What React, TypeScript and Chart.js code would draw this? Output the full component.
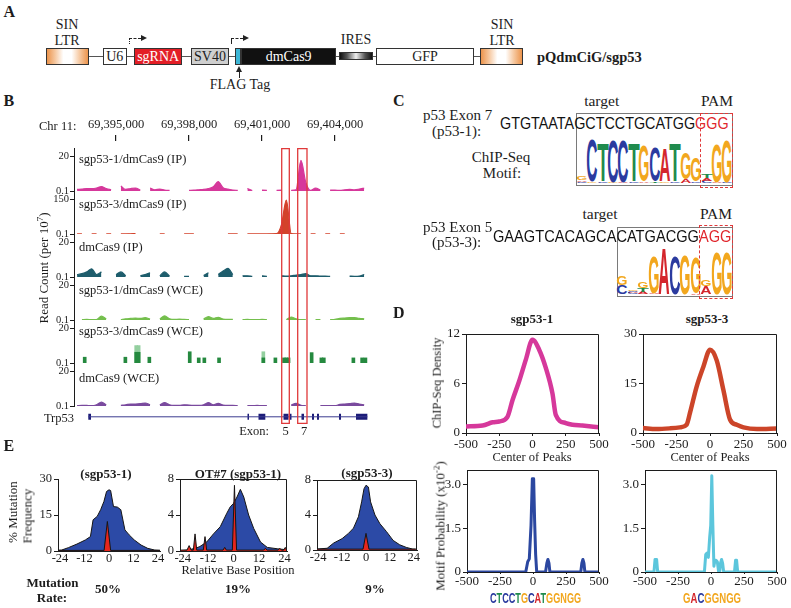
import React, { useEffect, useRef } from "react";
import { Chart, registerables } from "chart.js";

Chart.register(...registerables);

const SERIF = "'Liberation Serif', 'Times New Roman', Times, serif";
const SANS = "'Liberation Sans', Arial, Helvetica, sans-serif";
const INK = "#1c1c1c";
Chart.defaults.font.family = SERIF;
Chart.defaults.color = INK;

// ---------------- Panel B : genome browser data ----------------
const GENOME_MIN = 69393274;
const GENOME_MAX = 69405356;
const GENOME_TICKS = [69395000, 69398000, 69401000, 69404000];
const BIN_START = 69393300;
const BIN_SIZE = 200;

const TRACK_LABELS = [
  "sgp53-1/dmCas9 (IP)",
  "sgp53-3/dmCas9 (IP)",
  "dmCas9 (IP)",
  "sgp53-1/dmCas9 (WCE)",
  "sgp53-3/dmCas9 (WCE)",
  "dmCas9 (WCE)",
];
const TRACK_MAXES = [20, 150, 20, 20, 20, 20];
const TRACK_COLORS = ["#d6389b", "#d3422b", "#1e5d6c", "#74bf4d", "#25893f", "#7a4a9e"];

const T1_SGP531_IP = [
  1.0, 1.2, 1.5, 1.5, 1.8, 2.6, 1.5, 0.8, null, 3.0,
  1.0, 1.5, 1.8, 0.5, null, 1.8, 0.8, 1.2, 0.6, 0.4,
  null, null, null, 0.5, 0.6, 0.8, 1.0, 1.5, 2.5, 5.5,
  2.0, 1.2, 0.6, 0.5, null, 1.5, 0.4, null, 0.6, 0.4,
  null, 0.5, 0.6, null, 0.5, 0.8, 17.5, 5.0, 0.4, 1.8,
  0.5, null, 0.6, 0.6, 0.4, 0.8, 1.0, 0.8, 1.2, 1.8,
];
const T2_SGP533_IP = [
  0.5, 0.5, null, 0.5, 0.5, null, 0.5, 0.5, null, 0.5,
  0.5, 1.2, 2.0, null, null, null, null, 0.5, 0.5, null,
  null, null, 0.5, 0.5, 0.5, null, null, null, null, null,
  null, 0.5, 0.5, 0.5, null, 0.5, 0.5, 0.5, 0.5, 0.5,
  0.8, 1.5, 40, 145, 2.0, 0.5, 0.5, null, 0.5, 0.5,
  null, 0.5, 0.5, null, 0.5, 0.5, null, null, null, null,
];
const T3_DMCAS9_IP = [
  1.5, 2.0, 3.0, 4.8, 1.5, 3.0, null, null, 1.5, 3.0,
  0.8, null, null, 0.8, 1.5, 2.5, null, 0.8, 3.0, 0.5,
  null, null, 0.5, 0.5, null, null, 1.0, 2.5, null, 1.5,
  3.5, 5.0, 1.5, null, 0.8, 0.8, 0.5, null, 0.8, 0.5,
  null, null, 0.8, 0.6, 0.8, 1.2, 1.5, 2.0, 0.8, 0.8,
  0.6, 0.6, 0.5, null, null, null, 0.6, 0.5, 0.6, 1.5,
];
const T4_SGP531_WCE = [
  null, 0.3, 0.5, 0.3, 0.4, 2.3, 0.8, null, null, 0.4,
  0.8, 1.0, 1.2, 1.0, 1.4, 0.6, null, 0.8, 2.4, 0.8,
  0.4, 0.6, 0.4, 0.3, null, null, 0.6, 2.0, 1.0, 1.6,
  0.6, 0.4, 0.4, null, 0.3, 0.4, 0.3, 0.3, 0.4, 0.3,
  null, null, null, 0.3, 1.8, 0.8, 0.3, 0.3, null, 0.3,
  0.3, null, 0.3, 0.5, 1.0, 1.2, 1.4, 1.5, 1.0, 0.8,
];
const T5_WCE_POS = [
  69393714, 69395385, 69395830, 69395930, 69396370, 69398030, 69398400, 69398630, 69399235, 69401055,
  69401550, 69401905, 69402000, 69402090, 69403040, 69403440, 69403540, 69404755, 69405115, 69405250,
];
const T5_WCE_VAL = [3.4, 3.4, 6.2, 6.2, 3.4, 6.5, 3.0, 3.0, 3.0, 3.0, 3.0, 3.0, 3.0, 3.0, 6.0, 3.0, 3.0, 3.0, 3.0, 3.0];
const T5_LIGHT_POS = [69395830, 69395930, 69401055];
const T5_LIGHT_VAL = [10, 10, 6.5];
const T6_DMCAS9_WCE = [
  0.3, 0.5, 0.4, 0.3, 0.8, 2.3, 0.8, null, null, 0.5,
  0.8, 1.2, 1.2, 1.4, 1.8, 0.8, null, 0.8, 2.0, 0.8,
  0.5, 0.5, 0.8, 0.6, 0.5, 0.5, 0.8, 2.0, 0.8, 1.6,
  0.6, 0.4, 0.5, 0.3, null, 0.3, 0.3, 0.4, 0.3, 0.3,
  null, null, null, null, 0.6, 1.6, 0.5, 0.3, null, null,
  0.3, 0.3, 0.3, 0.3, 1.0, 1.2, 1.4, 1.8, 1.2, 0.8,
];

const GENE_START = 69393862;
const GENE_END = 69405330;
const GENE_EXONS = [
  [69393862, 69393973], [69400404, 69400466], [69400856, 69401136], [69401884, 69402089],
  [69402151, 69402212], [69402623, 69402726], [69403055, 69403137], [69403260, 69403342],
  [69404164, 69404247], [69404863, 69405330],
];
const HIGHLIGHTS = [[69401810, 69402122], [69402467, 69402849]];

// ---------------- Panel D data ----------------
const D1_X = [-500, -375, -300, -250, -190, -150, -100, -50, 0, 50, 100, 150, 175, 250, 300, 375, 500];
const D1_Y = [0.8, 0.9, 1.3, 1.4, 1.9, 4.0, 6.3, 8.9, 11.3, 10.1, 7.9, 4.8, 2.2, 1.2, 1.0, 0.9, 0.7];
const D2_X = [-500, -400, -300, -225, -175, -150, -100, -50, 0, 50, 100, 150, 200, 250, 350, 500];
const D2_Y = [1.5, 1.2, 1.4, 1.7, 2.5, 6.0, 14.0, 20.0, 25.2, 22.0, 13.0, 4.0, 2.5, 1.7, 1.2, 1.4];
const M1_X = [-500, -55, -40, -28, -15, -5, 5, 12, 20, 28, 95, 105, 113, 121, 128, 362, 370, 378, 386, 393, 500];
const M1_Y = [0, 0, 0.35, 0.45, 1.6, 3.2, 3.2, 1.8, 0.6, 0, 0, 0.3, 0.43, 0.3, 0, 0, 0.3, 0.43, 0.3, 0, 0];
const M2_X = [-500, -432, -424, -412, -404, -50, -40, -30, -20, -10, -2, 6, 14, 22, 30, 38, 48, 58, 66, 72, 80, 88, 96, 178, 186, 194, 202, 500];
const M2_Y = [0, 0, 0.43, 0.43, 0, 0, 0.6, 0.65, 0.5, 1.2, 1.6, 3.3, 1.6, 0.2, 0.4, 0.4, 0.35, 0, 0, 0.3, 0.43, 0.3, 0, 0, 0.4, 0.4, 0, 0];
const D_SEQ1 = "CTCCTGCATGGNGG";
const D_SEQ2 = "GACGGNGG";

// ---------------- Panel E data ----------------
const E1_BLUE_X = [-25, -23.2, -19.9, -15.7, -11.6, -9.1, -7.8, -5.8, -4.1, -2.5, -1.2, 0, 0.8, 2.2, 4.1, 5.8, 7.8, 9.9, 12.4, 15.7, 19, 22.4, 24.8, 25];
const E1_BLUE_Y = [0.3, 0.4, 1.4, 2.9, 4.6, 6.0, 13.0, 14.4, 17.2, 20.6, 24.8, 25.5, 25.2, 18.5, 18.3, 17.2, 8.8, 6.7, 4.6, 2.5, 1.1, 0.4, 0.3, 0.3];
const E1_RED_X = [-25, -2.4, -0.8, 0.8, 25];
const E1_RED_Y = [0.25, 0.25, 12.3, 0.25, 0.25];
const E2_BLUE_X = [-25, -22, -18, -15.9, -12.7, -9.5, -6.3, -3.2, -1.6, 0, 1.6, 3.2, 4.8, 7.1, 9.5, 12.7, 15.9, 20.6, 24.6, 25];
const E2_BLUE_Y = [0.05, 0.1, 0.3, 0.5, 1.0, 1.9, 2.7, 4.2, 4.9, 5.3, 6.0, 6.85, 6.0, 4.0, 2.5, 1.0, 0.4, 0.25, 0.15, 0.1];
const E2_RED_X = [-25, -22, -21, -20, -19, -18.2, -17.4, -14.3, -13.5, -12.7, -5, -4.2, -3.4, -0.6, 0.4, 1.4, 14.2, 15, 15.8, 21, 21.8, 22.6, 23.6, 24.4, 25];
const E2_RED_Y = [0.1, 0.1, 0.6, 0.1, 0.1, 1.9, 0.1, 0.1, 1.6, 0.1, 0.1, 0.4, 0.1, 0.1, 7.3, 0.1, 0.1, 0.3, 0.1, 0.1, 0.3, 0.1, 0.1, 0.4, 0.1];
const E3_BLUE_X = [-25, -19.5, -16.2, -12, -8.8, -6.3, -3.8, -2.2, -1, 0, 1.2, 2.3, 4.5, 7, 10.3, 13.6, 16.9, 20.2, 23.5, 25];
const E3_BLUE_Y = [0.1, 0.2, 0.8, 1.3, 1.9, 2.5, 3.8, 5.5, 7.0, 7.4, 7.2, 5.5, 4.0, 3.0, 2.1, 1.1, 0.6, 0.3, 0.1, 0.1];
const E3_RED_X = [-25, -1.5, 0, 1.5, 25];
const E3_RED_Y = [0.1, 0.1, 1.9, 0.1, 0.1];
const E_TICKS = [-24, -12, 0, 12, 24];
const MUTATION_RATES = ["50%", "19%", "9%"];

// ---------------- Panel C data ----------------
const SEQ_P53_1 = "GTGTAATAGCTCCTGCATGGGGG";
const SEQ_P53_3 = "GAAGTCACAGCACATGACGGAGG";
const LOGO1 = [
  [["C", 1.5], ["A", 1.5], ["G", 4]],
  [["G", 1.5], ["C", 42]],
  [["C", 1.5], ["T", 39]],
  [["G", 1], ["C", 43]],
  [["A", 1], ["C", 43]],
  [["C", 1.5], ["T", 38]],
  [["A", 1.5], ["G", 36]],
  [["T", 1.5], ["C", 35]],
  [["G", 1.5], ["A", 33]],
  [["C", 1.5], ["T", 38]],
  [["A", 4], ["G", 27]],
  [["C", 1.5], ["G", 24]],
  [["C", 2], ["A", 2.5], ["T", 4]],
  [["A", 1], ["G", 38]],
  [["C", 1], ["G", 43]],
];
const LOGO2 = [
  [["C", 9], ["G", 9]],
  [["C", 2], ["A", 1.5], ["G", 1]],
  [["A", 2], ["T", 4], ["G", 7]],
  [["A", 1], ["G", 37]],
  [["A", 46]],
  [["C", 38]],
  [["G", 40]],
  [["A", 1.5], ["G", 36]],
  [["A", 8], ["G", 6]],
  [["G", 43]],
  [["G", 43]],
];

const BASE_COLORS = { A: "#d4262c", C: "#2b3b9f", G: "#f2a71e", T: "#1f8b4d", N: "#f2a71e" };
const ADV_BOLD = { A: 0.722, C: 0.722, G: 0.778, T: 0.611, N: 0.722 };
const ADV_REG = { A: 0.667, C: 0.722, G: 0.778, T: 0.611, N: 0.722 };

// ---------------- helpers ----------------
type Rect = { l: number; t: number; r: number; b: number };

function PlotCanvas({ rect, m, make }: { rect: Rect; m: Rect; make: (pad: Rect) => any }) {
  const ref = useRef<HTMLCanvasElement | null>(null);
  const left = Math.round(rect.l - m.l);
  const top = Math.round(rect.t - m.t);
  const width = Math.round(rect.r + m.r) - left;
  const height = Math.round(rect.b + m.b) - top;
  const pad = {
    l: Math.round(rect.l) - left,
    t: Math.round(rect.t) - top,
    r: width - (Math.round(rect.r) - left),
    b: height - (Math.round(rect.b) - top),
  };
  useEffect(() => {
    const chart = new Chart(ref.current as HTMLCanvasElement, make(pad));
    return () => chart.destroy();
  }, []);
  return (
    <canvas
      ref={ref}
      width={width}
      height={height}
      style={{ position: "absolute", left, top, width, height, display: "block" }}
    />
  );
}

const boxPlugin = {
  id: "plotBox",
  afterDraw(chart: any) {
    const { ctx, chartArea: a } = chart;
    ctx.save();
    ctx.strokeStyle = INK;
    ctx.lineWidth = 1;
    ctx.beginPath();
    const L = Math.round(a.left);
    const R = Math.round(a.right) - 0.5;
    const T = Math.round(a.top) + 0.5;
    const B = Math.round(a.bottom);
    ctx.moveTo(L, T);
    ctx.lineTo(R, T);
    ctx.lineTo(R, B);
    ctx.stroke();
    ctx.restore();
  },
};

type AxisSpec = { min: number; max: number; ticks: number[]; fmt?: (v: number) => string; size?: number; pad?: number; tick?: number };

function xyConfig(p: Rect, datasets: any[], x: AxisSpec, y: AxisSpec, box: boolean) {
  const axis = (spec: AxisSpec, isX: boolean) => ({
    type: "linear",
    min: spec.min,
    max: spec.max,
    bounds: "data",
    offset: false,
    afterBuildTicks: (s: any) => {
      s.ticks = spec.ticks.map((v) => ({ value: v }));
    },
    afterFit: (s: any) => {
      if (isX) s.height = p.b;
      else s.width = p.l;
    },
    ticks: {
      autoSkip: false,
      maxRotation: 0,
      padding: spec.pad ?? 2,
      color: INK,
      font: { family: SERIF, size: spec.size ?? 13, lineHeight: 1 },
      callback: (v: number) => (spec.fmt ? spec.fmt(v) : String(v)),
    },
    grid: { display: true, drawOnChartArea: false, drawTicks: true, tickLength: spec.tick ?? 4, color: INK, lineWidth: 1, offset: false },
    border: { display: true, color: INK, width: 1 },
  });
  return {
    type: "line",
    data: { datasets },
    options: {
      animation: false,
      responsive: false,
      events: [],
      layout: { padding: { left: 0, top: p.t, right: p.r, bottom: 0 } },
      plugins: { legend: { display: false }, tooltip: { enabled: false } },
      scales: { x: axis(x, true), y: axis(y, false) },
    },
    plugins: box ? [boxPlugin] : [],
  };
}

const pts = (xs: number[], ys: (number | null)[]) => xs.map((x, i) => ({ x, y: ys[i] }));

function lineDs(xs: number[], ys: number[], color: string, width: number, smooth: boolean) {
  return {
    data: pts(xs, ys),
    borderColor: color,
    backgroundColor: color,
    borderWidth: width,
    pointRadius: 0,
    fill: false,
    borderJoinStyle: "round",
    borderCapStyle: "round",
    cubicInterpolationMode: smooth ? "monotone" : "default",
    tension: 0,
  };
}

function areaDs(xs: number[], ys: number[], color: string, order: number) {
  return {
    data: pts(xs, ys),
    borderColor: "#151515",
    backgroundColor: color,
    borderWidth: 1,
    pointRadius: 0,
    fill: "origin",
    tension: 0,
    order,
  };
}

function Txt({ x, y, children, size = 13, bold = false, anchor = "middle", color = INK, family = SERIF, rotate = 0 }: any) {
  const tx = anchor === "middle" ? "-50%" : anchor === "end" ? "-100%" : "0";
  return (
    <div
      style={{
        position: "absolute",
        left: x,
        top: y,
        transform: `translate(${tx}, -50%)${rotate ? ` rotate(${rotate}deg)` : ""}`,
        fontFamily: family,
        fontSize: size,
        fontWeight: bold ? 700 : 400,
        lineHeight: 1,
        color,
        whiteSpace: "nowrap",
      }}
    >
      {children}
    </div>
  );
}

function LogoLetter({ ch, x, w, bottom, h }: any) {
  const F = 40;
  const sy = h / (0.716 * F);
  const sx = w / ((ADV_BOLD[ch] - 0.09) * F);
  const lsb = 0.045 * F;
  return (
    <div style={{ position: "absolute", left: x, top: bottom - h, width: w, height: h }}>
      <span
        style={{
          position: "absolute",
          left: 0,
          top: 0,
          fontFamily: SANS,
          fontWeight: 700,
          fontSize: F,
          lineHeight: `${F}px`,
          color: BASE_COLORS[ch],
          whiteSpace: "nowrap",
          transformOrigin: "0 0",
          transform: `translate(${-lsb * sx}px, ${-0.1305 * F * sy}px) scale(${sx}, ${sy})`,
        }}
      >
        {ch}
      </span>
    </div>
  );
}

function Logo({ cols, left, colW, bottom }: any) {
  const out: any[] = [];
  cols.forEach((col: any[], i: number) => {
    let y = bottom;
    col.forEach(([ch, h]: any, j: number) => {
      out.push(<LogoLetter key={`${i}-${j}`} ch={ch} x={left + i * colW + 0.3} w={colW - 0.6} bottom={y} h={h} />);
      y -= h;
    });
  });
  return <>{out}</>;
}

function SeqText({ seq, x, y, width, size, bold = false, colorFor }: any) {
  const adv = bold ? ADV_BOLD : ADV_REG;
  const natural = seq.split("").reduce((s: number, c: string) => s + adv[c] * size, 0);
  const sx = width / natural;
  return (
    <div
      style={{
        position: "absolute",
        left: x,
        top: y - size / 2,
        fontFamily: SANS,
        fontWeight: bold ? 700 : 400,
        fontSize: size,
        lineHeight: `${size}px`,
        whiteSpace: "nowrap",
        transformOrigin: "0 0",
        transform: `scaleX(${sx})`,
      }}
    >
      {seq.split("").map((c: string, i: number) => (
        <span key={i} style={{ color: colorFor(c, i) }}>
          {c}
        </span>
      ))}
    </div>
  );
}

function Box({ l, r, t, b, bg, color = INK, children, border = "1px solid #333" }: any) {
  return (
    <div
      style={{
        position: "absolute",
        left: l,
        top: t,
        width: r - l,
        height: b - t,
        background: bg,
        border,
        boxSizing: "border-box",
        display: "flex",
        alignItems: "center",
        justifyContent: "center",
        fontFamily: SERIF,
        fontSize: 14,
        color,
        lineHeight: 1,
      }}
    >
      {children}
    </div>
  );
}

function PromoterArrow({ x, y, dotted }: any) {
  return (
    <>
      <div style={{ position: "absolute", left: x, top: y, width: 0, height: 6, borderLeft: `1.4px ${dotted ? "dotted" : "solid"} #222` }} />
      <div style={{ position: "absolute", left: x, top: y, width: 12, height: 0, borderTop: "1.4px dashed #222" }} />
      <div
        style={{
          position: "absolute",
          left: x + 12,
          top: y - 3,
          width: 0,
          height: 0,
          borderTop: "3.7px solid transparent",
          borderBottom: "3.7px solid transparent",
          borderLeft: "6.5px solid #222",
        }}
      />
    </>
  );
}

// ---------------- Panel B charts (one canvas per track) ----------------
const TRACK_H = 43;
const TRACK_Y0 = 148;
const GENE_BOTTOM = 424;
const TICK_INSET = 8;
const trackTop = (mx: number) => 0.1 + ((mx - 0.1) * TRACK_H) / (TRACK_H - TICK_INSET);
const fmtComma = (v: number) => String(Math.round(v)).replace(/\B(?=(\d{3})+(?!\d))/g, ",");
const binData = (vals: (number | null)[]) => vals.map((v, i) => ({ x: BIN_START + BIN_SIZE * i + BIN_SIZE / 2, y: v }));

function highlightPlugin(drawTop: boolean, drawBottom: boolean) {
  return {
    id: "highlights",
    afterDatasetsDraw(chart: any) {
      const xs = chart.scales.x;
      const a = chart.chartArea;
      const ctx = chart.ctx;
      ctx.save();
      ctx.strokeStyle = "#e0393a";
      ctx.lineWidth = 1.3;
      for (const [s, e] of HIGHLIGHTS) {
        const x1 = xs.getPixelForValue(s);
        const x2 = xs.getPixelForValue(e);
        ctx.beginPath();
        ctx.moveTo(x1, a.top);
        ctx.lineTo(x1, a.bottom);
        ctx.moveTo(x2, a.top);
        ctx.lineTo(x2, a.bottom);
        if (drawTop) {
          ctx.moveTo(x1, a.top + 0.65);
          ctx.lineTo(x2, a.top + 0.65);
        }
        if (drawBottom) {
          ctx.moveTo(x1, a.bottom - 0.65);
          ctx.lineTo(x2, a.bottom - 0.65);
        }
        ctx.stroke();
      }
      ctx.restore();
    },
  };
}

function genomeX(p: Rect, show: boolean) {
  return {
    type: "linear",
    position: "top",
    display: show,
    offset: false,
    min: GENOME_MIN,
    max: GENOME_MAX,
    bounds: "data",
    afterBuildTicks: (s: any) => {
      s.ticks = GENOME_TICKS.map((v) => ({ value: v }));
    },
    afterFit: (s: any) => {
      if (show) s.height = p.t;
    },
    ticks: { autoSkip: false, maxRotation: 0, padding: 3, color: INK, font: { family: SERIF, size: 12.5 }, callback: (v: number) => fmtComma(v) },
    grid: { display: true, offset: false, drawOnChartArea: false, drawTicks: true, tickLength: 13, color: INK, lineWidth: 1.2, tickBorderDash: [6, 30] },
    border: { display: false },
  };
}

function trackConfig(i: number, p: Rect) {
  const mx = TRACK_MAXES[i];
  const color = TRACK_COLORS[i];
  const series = [T1_SGP531_IP, T2_SGP533_IP, T3_DMCAS9_IP, T4_SGP531_WCE, null, T6_DMCAS9_WCE][i];
  const datasets: any[] = [];
  if (series) {
    datasets.push({
      type: "line",
      data: binData(series),
      borderColor: color,
      backgroundColor: color,
      borderWidth: 1.2,
      pointRadius: 0,
      fill: "start",
      spanGaps: false,
      cubicInterpolationMode: "monotone",
    });
  } else {
    datasets.push({
      type: "bar",
      data: pts(T5_WCE_POS, T5_WCE_VAL),
      backgroundColor: color,
      barThickness: 3,
      grouped: false,
      order: 1,
    });
    datasets.push({
      type: "bar",
      data: pts(T5_LIGHT_POS, T5_LIGHT_VAL),
      backgroundColor: "#93cf9f",
      barThickness: 3,
      grouped: false,
      order: 2,
    });
  }
  return {
    type: "line",
    data: { datasets },
    options: {
      animation: false,
      responsive: false,
      events: [],
      layout: { padding: { left: 0, top: i === 0 ? 0 : p.t, right: p.r, bottom: p.b } },
      plugins: { legend: { display: false }, tooltip: { enabled: false } },
      scales: {
        x: genomeX(p, i === 0),
        y: {
          type: "linear",
          position: "left",
          min: 0.1,
          max: trackTop(mx),
          bounds: "data",
          afterBuildTicks: (s: any) => {
            s.ticks = [{ value: 0.1 }, { value: mx }];
          },
          afterFit: (s: any) => {
            s.width = p.l;
          },
          ticks: { padding: 1, color: INK, font: { family: SERIF, size: 10.5, lineHeight: 1 }, callback: (v: number) => (v === 0.1 ? "0.1" : String(v)) },
          grid: { display: true, drawOnChartArea: false, drawTicks: true, tickLength: 4, color: INK },
          border: { display: true, color: INK, width: 1 },
        },
      },
    },
    plugins: [highlightPlugin(i === 0, false)],
  };
}

function geneConfig(p: Rect) {
  const exonPts: any[] = [];
  GENE_EXONS.forEach(([s, e]) => {
    exonPts.push({ x: s, y: 0.4 }, { x: e, y: 0.4 }, { x: e + 1, y: null });
  });
  return {
    type: "line",
    data: {
      datasets: [
        {
          data: [{ x: GENE_START, y: 0.4 }, { x: GENE_END, y: 0.4 }],
          borderColor: "#3b3b8f",
          borderWidth: 1,
          pointRadius: 0,
          fill: false,
        },
        {
          data: exonPts,
          borderColor: "#1c1c78",
          borderWidth: 6,
          borderCapStyle: "butt",
          pointRadius: 0,
          fill: false,
          spanGaps: false,
        },
      ],
    },
    options: {
      animation: false,
      responsive: false,
      events: [],
      layout: { padding: { left: 0, top: p.t, right: p.r, bottom: p.b } },
      plugins: { legend: { display: false }, tooltip: { enabled: false } },
      scales: {
        x: genomeX(p, false),
        y: {
          type: "linear",
          min: 0,
          max: 1,
          afterFit: (s: any) => {
            s.width = p.l;
          },
          ticks: { display: false },
          grid: { display: false },
          border: { display: false },
        },
      },
    },
    plugins: [highlightPlugin(false, true)],
  };
}

// ---------------- App ----------------
export default function App() {
  const ltrBg = "linear-gradient(to right, #ec944c 0%, #f6c8a0 20%, #ffffff 40%, #ffffff 60%, #f6c8a0 80%, #ec944c 100%)";
  const trackLabelY = [159, 204.3, 246.7, 290, 331, 378.3];
  const dFmt = (v: number) => (v === 0 ? "0" : v.toFixed(1));
  const geneTop = TRACK_Y0 + TRACK_H * TRACK_MAXES.length;

  return (
    <div style={{ position: "absolute", left: 0, top: 0, width: 791, height: 608, background: "#fff", overflow: "hidden" }}>
      {/* ===== Panel A ===== */}
      <Txt x={3.5} y={12} size={16} bold anchor="start">A</Txt>
      <div style={{ position: "absolute", left: 89, top: 56, width: 391, height: 1, background: "#555" }} />
      <Box l={45.7} r={89.3} t={48} b={65} bg={ltrBg} />
      <Box l={102.7} r={126.7} t={48} b={65} bg="#fff">U6</Box>
      <Box l={134} r={182.3} t={48} b={65} bg="#e31e26" color="#fff">sgRNA</Box>
      <Box l={190.7} r={229.3} t={48} b={65} bg="#cfcfcf">SV40</Box>
      <Box l={235.3} r={241.5} t={48} b={65} bg="#3cb6d6" />
      <Box l={241.3} r={336} t={48} b={65} bg="#111" color="#fff">dmCas9</Box>
      <Box l={339} r={373} t={51.7} b={60.5} bg="linear-gradient(to right, #111 0%, #555 22%, #f0f0f0 50%, #555 78%, #111 100%)" />
      <Box l={376} r={474} t={48} b={65} bg="#fff">GFP</Box>
      <Box l={480} r={523.3} t={48} b={65} bg={ltrBg} />
      <Txt x={67} y={25} size={14}>SIN</Txt>
      <Txt x={67} y={41} size={14}>LTR</Txt>
      <Txt x={502} y={25} size={14}>SIN</Txt>
      <Txt x={502} y={41} size={14}>LTR</Txt>
      <Txt x={356} y={40} size={14}>IRES</Txt>
      <PromoterArrow x={128.5} y={37.5} dotted />
      <PromoterArrow x={230.5} y={37.5} />
      <div style={{ position: "absolute", left: 239.3, top: 70, width: 0, height: 8, borderLeft: "1.3px solid #222" }} />
      <div
        style={{
          position: "absolute",
          left: 236.4,
          top: 66,
          width: 0,
          height: 0,
          borderLeft: "3.5px solid transparent",
          borderRight: "3.5px solid transparent",
          borderBottom: "6px solid #222",
        }}
      />
      <Txt x={240} y={85} size={14}>FLAG Tag</Txt>
      <Txt x={537} y={57} size={14.5} bold anchor="start">pQdmCiG/sgp53</Txt>

      {/* ===== Panel B ===== */}
      <Txt x={3.5} y={101} size={16} bold anchor="start">B</Txt>
      {TRACK_MAXES.map((_, i) => (
        <PlotCanvas
          key={"track" + i}
          rect={{ l: 74, t: TRACK_Y0 + TRACK_H * i, r: 368, b: TRACK_Y0 + TRACK_H * (i + 1) }}
          m={{ l: 74, t: i === 0 ? 38 : 10, r: 12, b: 10 }}
          make={(p: Rect) => trackConfig(i, p)}
        />
      ))}
      <PlotCanvas rect={{ l: 74, t: geneTop, r: 368, b: GENE_BOTTOM }} m={{ l: 74, t: 0, r: 12, b: 4 }} make={geneConfig} />
      <Txt x={39} y={126} size={12.5} anchor="start">Chr 11:</Txt>
      {TRACK_LABELS.map((s, i) => (
        <Txt key={s} x={79} y={trackLabelY[i]} size={12.5} anchor="start">{s}</Txt>
      ))}
      <Txt x={43} y={268} size={13} rotate={-90}>
        Read Count (per 10<span style={{ fontSize: 9, position: "relative", top: -5 }}>7</span>)
      </Txt>
      <Txt x={74} y={418} size={12.5} anchor="end">Trp53</Txt>
      <Txt x={269} y={431} size={12.5} anchor="end">Exon:</Txt>
      <Txt x={285.7} y={431} size={12.5}>5</Txt>
      <Txt x={304} y={431} size={12.5}>7</Txt>

      {/* ===== Panel C ===== */}
      <Txt x={393} y={101} size={16} bold anchor="start">C</Txt>
      <Txt x={423} y={115} size={15} anchor="start">p53 Exon 7</Txt>
      <Txt x={432} y={131} size={15} anchor="start">(p53-1):</Txt>
      <Txt x={601.7} y={100.5} size={15.5}>target</Txt>
      <Txt x={717} y={100.5} size={15.5}>PAM</Txt>
      <Txt x={501} y={157} size={15}>ChIP-Seq</Txt>
      <Txt x={502} y={172.5} size={15}>Motif:</Txt>
      <div style={{ position: "absolute", left: 575.7, top: 113.3, width: 157, height: 72.7, border: "1px solid #7a7a7a", boxSizing: "border-box" }} />
      <Logo cols={LOGO1} left={576.5} colW={10.4} bottom={182.5} />
      <SeqText seq={SEQ_P53_1} x={500} y={123.3} width={232.7} size={17} colorFor={(c: string, i: number) => (i >= SEQ_P53_1.length - 3 ? "#e0262c" : "#111")} />
      <div style={{ position: "absolute", left: 700, top: 113.3, width: 33.3, height: 75, border: "1.5px dashed #e0393a", boxSizing: "border-box" }} />

      <Txt x={423} y={226.7} size={15} anchor="start">p53 Exon 5</Txt>
      <Txt x={432} y={241.7} size={15} anchor="start">(p53-3):</Txt>
      <Txt x={600} y={213.5} size={15.5}>target</Txt>
      <Txt x={716} y={213.5} size={15.5}>PAM</Txt>
      <div style={{ position: "absolute", left: 616.7, top: 226.7, width: 116, height: 70.6, border: "1px solid #7a7a7a", boxSizing: "border-box" }} />
      <Logo cols={LOGO2} left={617} colW={10.5} bottom={294} />
      <SeqText seq={SEQ_P53_3} x={493.3} y={236.5} width={239.4} size={17} colorFor={(c: string, i: number) => (i >= SEQ_P53_3.length - 3 ? "#e0262c" : "#111")} />
      <div style={{ position: "absolute", left: 699.3, top: 225, width: 33.4, height: 74.3, border: "1.5px dashed #e0393a", boxSizing: "border-box" }} />

      {/* ===== Panel D ===== */}
      <Txt x={393} y={312.5} size={16} bold anchor="start">D</Txt>
      <Txt x={532} y={318} size={13} bold>sgp53-1</Txt>
      <Txt x={707} y={318} size={13} bold>sgp53-3</Txt>
      <PlotCanvas
        rect={{ l: 466, t: 334, r: 599, b: 433 }}
        m={{ l: 34, t: 11, r: 14, b: 20 }}
        make={(p: Rect) =>
          xyConfig(p, [lineDs(D1_X, D1_Y, "#d6389b", 4.5, true)], { min: -500, max: 500, ticks: [-500, -250, 0, 250, 500], tick: 3, pad: 2 }, { min: 0, max: 12, ticks: [0, 6, 12] }, true)
        }
      />
      <PlotCanvas
        rect={{ l: 643, t: 334, r: 777, b: 433 }}
        m={{ l: 34, t: 11, r: 13, b: 20 }}
        make={(p: Rect) =>
          xyConfig(p, [lineDs(D2_X, D2_Y, "#cc4529", 4.5, true)], { min: -500, max: 500, ticks: [-500, -250, 0, 250, 500], tick: 3, pad: 2 }, { min: 0, max: 30, ticks: [0, 15, 30] }, true)
        }
      />
      <Txt x={437} y={383} size={12.5} rotate={-90}>ChIP-Seq Density</Txt>
      <Txt x={532} y={457} size={12.5}>Center of Peaks</Txt>
      <Txt x={710} y={457} size={12.5}>Center of Peaks</Txt>

      <PlotCanvas
        rect={{ l: 467, t: 470, r: 599, b: 572 }}
        m={{ l: 34, t: 11, r: 14, b: 18 }}
        make={(p: Rect) =>
          xyConfig(p, [lineDs(M1_X, M1_Y, "#2b47a0", 3, false)], { min: -500, max: 500, ticks: [-500, -250, 0, 250, 500], tick: 2, pad: 1 }, { min: 0, max: 3.5, ticks: [0, 1.5, 3], fmt: dFmt }, true)
        }
      />
      <PlotCanvas
        rect={{ l: 645, t: 470, r: 777, b: 572 }}
        m={{ l: 34, t: 11, r: 13, b: 18 }}
        make={(p: Rect) =>
          xyConfig(p, [lineDs(M2_X, M2_Y, "#5cc6dc", 3, false)], { min: -500, max: 500, ticks: [-500, -250, 0, 250, 500], tick: 2, pad: 1 }, { min: 0, max: 3.5, ticks: [0, 1.5, 3], fmt: dFmt }, true)
        }
      />
      <Txt x={440} y={526} size={13} rotate={-90}>
        Motif Probability (x10<span style={{ fontSize: 9, position: "relative", top: -5 }}>-2</span>)
      </Txt>
      <SeqText seq={D_SEQ1} x={490} y={597} width={91.7} size={15} bold colorFor={(c: string) => BASE_COLORS[c]} />
      <SeqText seq={D_SEQ2} x={682.7} y={597} width={58} size={15} bold colorFor={(c: string) => BASE_COLORS[c]} />

      {/* ===== Panel E ===== */}
      <Txt x={3.5} y={446} size={16} bold anchor="start">E</Txt>
      <Txt x={106} y={473} size={13} bold>(sgp53-1)</Txt>
      <Txt x={238} y={473} size={13} bold>OT#7 (sgp53-1)</Txt>
      <Txt x={367} y={472} size={13} bold>(sgp53-3)</Txt>
      <PlotCanvas
        rect={{ l: 58, t: 479, r: 160, b: 551 }}
        m={{ l: 26, t: 11, r: 10, b: 16 }}
        make={(p: Rect) =>
          xyConfig(
            p,
            [areaDs(E1_BLUE_X, E1_BLUE_Y, "#2c4aa6", 2), areaDs(E1_RED_X, E1_RED_Y, "#e8261c", 1)],
            { min: -25, max: 25, ticks: E_TICKS, size: 12.5, tick: 0, pad: 1 },
            { min: 0, max: 30, ticks: [0, 15, 30], size: 12.5 },
            false
          )
        }
      />
      <PlotCanvas
        rect={{ l: 180, t: 479, r: 287, b: 551 }}
        m={{ l: 16, t: 11, r: 10, b: 16 }}
        make={(p: Rect) =>
          xyConfig(
            p,
            [areaDs(E2_BLUE_X, E2_BLUE_Y, "#2c4aa6", 2), areaDs(E2_RED_X, E2_RED_Y, "#e8261c", 1)],
            { min: -25.3, max: 25.2, ticks: E_TICKS, size: 12.5, tick: 0, pad: 1 },
            { min: 0, max: 8, ticks: [0, 4, 8], size: 12.5 },
            true
          )
        }
      />
      <PlotCanvas
        rect={{ l: 317, t: 480, r: 417, b: 550 }}
        m={{ l: 16, t: 11, r: 10, b: 16 }}
        make={(p: Rect) =>
          xyConfig(
            p,
            [areaDs(E3_BLUE_X, E3_BLUE_Y, "#2c4aa6", 2), areaDs(E3_RED_X, E3_RED_Y, "#e8261c", 1)],
            { min: -24.6, max: 25.6, ticks: E_TICKS, size: 12.5, tick: 0, pad: 1 },
            { min: 0, max: 8, ticks: [0, 4, 8], size: 12.5 },
            true
          )
        }
      />
      <Txt x={12} y={512} size={13} rotate={-90}>% Mutation</Txt>
      <Txt x={27} y={516} size={13} rotate={-90}>Frequency</Txt>
      <Txt x={238} y={570} size={12.5}>Relative Base Position</Txt>
      <Txt x={52.5} y={582} size={13} bold>Mutation</Txt>
      <Txt x={52} y={597} size={13} bold>Rate:</Txt>
      <Txt x={108} y={588} size={13} bold>{MUTATION_RATES[0]}</Txt>
      <Txt x={238} y={588} size={13} bold>{MUTATION_RATES[1]}</Txt>
      <Txt x={375} y={588} size={13} bold>{MUTATION_RATES[2]}</Txt>
    </div>
  );
}
